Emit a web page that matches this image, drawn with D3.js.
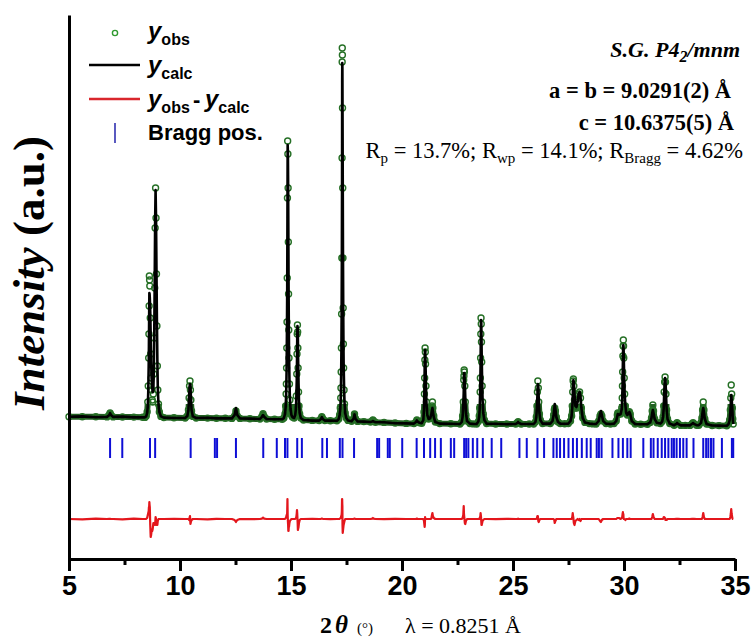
<!DOCTYPE html>
<html>
<head>
<meta charset="utf-8">
<script src="https://cdn.jsdelivr.net/npm/d3@7"></script>
<style>
  body { margin: 0; background: #fff; }
  svg { display: block; }
</style>
</head>
<body>
<div id="chart"></div>
<script>
// powder pattern: [2theta, yObs, yCalc] (a.u.)
const pattern = [
  [5.00,1060,1060],[5.60,1065,1080],[6.21,1060,1040],[6.71,1055,1055],
  [6.81,1150,1140],[6.85,1250,1240],[6.89,1150,1150],[6.99,1055,1055],
  [7.41,1050,1070],[7.92,1045,1030],[8.32,1035,1035],
  [8.42,1030,1030],[8.48,1100,1090],[8.52,1300,1250],[8.55,1800,1600],[8.57,2600,2300],
  [8.59,4000,3600],[8.60,5200,4600],[8.61,6600,6000],[8.62,8100,7250],[8.63,7900,7200],
  [8.64,7600,7000],[8.66,6000,6300],[8.68,4200,5100],[8.70,3000,3800],[8.72,2400,3000],
  [8.75,1900,2500],[8.77,1800,2300],[8.80,2200,2400],[8.82,3200,3400],[8.84,5000,5200],
  [8.86,7500,7700],[8.88,10500,10800],[8.90,12500,12400],[8.92,11000,11000],[8.94,8200,8400],
  [8.96,5600,5900],[8.98,3600,3900],[9.00,2400,2500],[9.03,1700,1700],[9.07,1300,1300],
  [9.14,1080,1080],[9.27,1020,1020],[9.73,1010,1000],
  [10.23,1000,1000],[10.33,1100,1100],[10.38,1400,1400],[10.41,2000,2050],[10.43,2600,2550],
  [10.45,2850,2700],[10.47,2400,2650],[10.49,1900,2050],[10.52,1350,1400],[10.58,1080,1080],
  [10.73,1000,1000],[11.24,995,1010],[11.64,990,980],[12.04,985,985],
  [12.34,980,980],[12.46,1100,1150],[12.52,1350,1500],[12.58,1100,1150],[12.70,980,980],
  [13.15,960,970],[13.60,950,950],[13.69,1080,1060],[13.74,1220,1150],[13.79,1080,1060],
  [13.90,950,950],[14.26,940,940],
  [14.61,940,940],[14.68,1000,1000],[14.73,1200,1200],[14.76,1600,1550],[14.78,2200,2100],
  [14.79,2700,2600],[14.80,3500,3300],[14.81,4500,4400],[14.82,5800,5700],[14.83,8000,7600],
  [14.84,12000,11000],[14.85,14850,14650],[14.86,14200,14300],[14.87,12500,12800],
  [14.88,9800,10400],[14.89,7200,7800],[14.90,5400,5800],[14.91,4000,4400],[14.93,2700,2900],
  [14.95,1900,2000],[14.98,1400,1450],[15.02,1150,1150],[15.06,1050,1050],
  [15.14,1000,1000],[15.19,1150,1150],[15.22,1500,1450],[15.24,2100,2000],[15.26,3200,2900],
  [15.27,4200,3750],[15.28,5200,4900],[15.29,5650,5600],[15.30,5300,5500],[15.31,4500,5050],
  [15.32,3500,4000],[15.34,2300,2700],[15.36,1600,1800],[15.39,1200,1250],[15.44,1000,1000],
  [15.56,900,900],[15.96,880,870],
  [16.27,870,870],[16.35,960,950],[16.39,1060,1040],[16.43,960,950],[16.52,870,870],
  [16.77,865,875],
  [17.07,860,860],[17.15,950,950],[17.19,1150,1150],[17.22,1500,1450],[17.24,2000,1950],
  [17.25,2500,2450],[17.26,3300,3200],[17.27,4500,4300],[17.28,6200,6000],[17.29,9000,8600],
  [17.30,14000,13000],[17.305,18800,17800],[17.31,19500,18750],[17.315,19150,18500],
  [17.32,16500,16800],[17.33,12500,13200],[17.34,9000,9600],[17.35,6500,7000],[17.36,4700,5100],
  [17.37,3500,3800],[17.39,2400,2600],[17.41,1700,1800],[17.44,1250,1250],[17.49,1000,1000],
  [17.57,880,880],
  [17.73,840,840],[17.82,980,970],[17.86,1200,1180],[17.90,980,980],[18.00,830,830],
  [18.28,820,820],
  [18.58,800,800],[18.66,840,820],[18.69,900,850],[18.72,840,820],[18.80,790,790],
  [19.19,780,790],[19.69,750,740],[20.19,730,730],
  [20.54,720,720],[20.63,800,800],[20.67,900,880],[20.71,820,820],[20.79,760,760],
  [20.89,740,740],[20.96,900,900],[20.99,1300,1400],[21.01,2200,2500],[21.02,3000,3400],
  [21.03,3900,4200],[21.04,4500,4400],[21.05,4300,4300],[21.06,3700,3700],[21.08,2600,2600],
  [21.10,1800,1800],[21.14,1150,1150],[21.20,950,950],[21.27,980,980],[21.32,1200,1180],
  [21.35,1600,1400],[21.37,1800,1500],[21.39,1500,1350],[21.43,1100,1050],[21.50,800,800],
  [21.70,720,720],[22.20,710,710],
  [22.61,700,700],[22.69,800,800],[22.73,1100,1050],[22.76,1800,1600],[22.78,2900,2250],
  [22.79,3100,2800],[22.80,3400,3250],[22.81,3300,3250],[22.83,2600,2800],[22.85,1800,2050],
  [22.88,1150,1250],[22.93,850,850],[23.06,720,720],[23.21,705,705],
  [23.36,700,700],[23.44,820,820],[23.48,1100,1100],[23.50,1500,1450],[23.52,2300,2200],
  [23.53,3000,2850],[23.54,4000,3700],[23.55,5200,5000],[23.56,6000,5900],[23.57,5700,5800],
  [23.58,4800,5100],[23.59,3800,4100],[23.61,2600,2800],[23.63,1800,1900],[23.66,1200,1250],
  [23.71,900,900],[23.81,720,720],
  [24.22,700,710],[24.72,700,690],[25.12,700,700],[25.20,760,760],[25.23,820,800],
  [25.26,760,760],[25.37,700,700],[25.73,700,700],
  [25.93,700,700],[26.01,800,800],[26.05,1050,1050],[26.08,1600,1550],[26.10,2300,2150],
  [26.12,2850,2700],[26.14,2500,2600],[26.16,1800,1950],[26.19,1200,1250],[26.23,900,900],
  [26.33,720,720],
  [26.68,720,720],[26.78,850,850],[26.83,1150,1150],[26.86,1400,1450],[26.88,1500,1700],
  [26.91,1350,1450],[26.95,1050,1050],[27.03,800,800],[27.13,720,720],[27.33,715,715],
  [27.49,720,720],[27.59,850,850],[27.64,1100,1100],[27.67,1600,1500],[27.69,2300,2000],
  [27.71,2850,2750],[27.72,2950,2900],[27.74,2600,2800],[27.77,1900,2200],[27.81,1500,1600],
  [27.86,1500,1550],[27.91,1800,1800],[27.96,2200,2250],[28.00,2300,2300],[28.04,2000,2100],
  [28.08,1500,1500],[28.14,1000,1000],[28.24,780,780],[28.44,720,720],[28.59,705,705],
  [28.74,700,700],[28.86,850,850],[28.92,1100,1200],[28.96,1200,1350],[29.00,1100,1150],
  [29.06,850,850],[29.19,720,720],[29.39,700,700],
  [29.55,720,720],[29.65,850,850],[29.70,1150,1100],[29.72,1250,1200],[29.77,1200,1150],
  [29.85,1200,1200],[29.90,1500,1450],[29.92,2000,1900],[29.93,2600,2400],[29.94,3300,3050],
  [29.95,4100,3750],[29.96,4600,4400],[29.97,4900,4650],[29.98,4600,4550],[29.99,4000,4000],
  [30.01,3000,3000],[30.03,2200,2200],[30.06,1600,1650],[30.10,1250,1250],[30.15,1150,1150],
  [30.20,1250,1250],[30.24,1320,1300],[30.28,1200,1200],[30.35,850,850],[30.50,700,700],
  [30.75,690,690],
  [31.06,690,690],[31.18,780,780],[31.24,1000,1000],[31.27,1350,1250],[31.30,1650,1400],
  [31.33,1350,1250],[31.38,950,950],[31.48,760,760],
  [31.64,720,720],[31.72,820,820],[31.76,1050,1050],[31.79,1600,1500],[31.81,2300,2200],
  [31.83,2800,2750],[31.85,3050,3000],[31.87,2800,2850],[31.89,2200,2250],[31.92,1400,1450],
  [31.96,950,950],[32.06,720,720],
  [32.26,640,640],[32.36,720,710],[32.39,760,750],[32.43,720,710],[32.56,630,630],
  [32.76,630,630],
  [32.97,630,630],[33.07,720,710],[33.11,760,750],[33.15,720,710],[33.27,640,640],
  [33.37,640,640],[33.47,760,760],[33.51,1000,1000],[33.54,1400,1300],[33.57,1800,1500],
  [33.60,1400,1300],[33.64,950,950],[33.72,700,700],[33.97,625,625],[34.28,620,620],
  [34.63,610,610],[34.71,700,700],[34.76,900,900],[34.79,1400,1300],[34.81,2000,1750],
  [34.83,2650,2150],[34.85,2200,1950],[34.88,1500,1450],[34.90,950,950],[34.92,700,700]
];

// Bragg reflection positions (2theta)
const braggPos = [
  6.85, 7.40, 8.65, 8.88, 10.48, 11.57, 11.67, 12.52, 13.75, 14.36, 14.73, 14.84,
  15.28, 15.49, 16.41, 16.62, 17.20, 17.32, 17.84, 18.88, 18.97, 19.36, 19.45, 20.01,
  20.66, 20.99, 21.27, 21.49, 21.75, 22.20, 22.35, 22.80, 22.89, 22.99, 23.19, 23.39,
  23.64, 24.04, 24.47, 25.29, 25.62, 26.10, 26.40, 26.82, 26.97, 27.12, 27.30, 27.50,
  27.70, 27.88, 28.10, 28.32, 28.50, 28.77, 28.87, 28.99, 29.48, 29.75, 29.95, 30.15,
  30.30, 30.87, 31.21, 31.33, 31.52, 31.70, 31.85, 32.00, 32.15, 32.25, 32.37, 32.52,
  32.67, 32.82, 33.13, 33.57, 33.70, 33.80, 33.92, 34.03, 34.41, 34.86, 34.92
];

const xTicks = [5, 10, 15, 20, 25, 30, 35];
const xMinorTicks = [7.5, 12.5, 17.5, 22.5, 27.5, 32.5];
const diffOffset = -4050;   // where obs - calc is drawn
const braggRange = [0, -1000];

const svg = d3.select('#chart').append('svg')
  .attr('width', 752)
  .attr('height', 641);

const x = d3.scaleLinear().domain([5, 35]).range([69, 735]);
const y = d3.scaleLinear().domain([-6050, 21150]).range([559, 15]);

const obsLine = d3.line().x(d => x(d[0])).y(d => y(d[1]));
const calcLine = d3.line().x(d => x(d[0])).y(d => y(d[2]));
const diffLine = d3.line().x(d => x(d[0])).y(d => y(diffOffset + d[1] - d[2]));

// dense observed points near the baseline look like a thick green band
svg.append('clipPath').attr('id', 'baseClip')
  .append('rect')
  .attr('x', 60).attr('y', y(1700))
  .attr('width', 700).attr('height', 60);

svg.append('path')
  .datum(pattern)
  .attr('clip-path', 'url(#baseClip)')
  .attr('fill', 'none')
  .attr('stroke', '#235f23')
  .attr('stroke-width', 6)
  .attr('stroke-linejoin', 'round')
  .attr('d', obsLine);

// observed points
svg.append('g')
  .selectAll('circle')
  .data(pattern)
  .join('circle')
  .attr('cx', d => x(d[0]))
  .attr('cy', d => y(d[1]))
  .attr('r', 3)
  .attr('fill', 'none')
  .attr('stroke', '#267026')
  .attr('stroke-width', 1.4);

// calculated
svg.append('path')
  .datum(pattern)
  .attr('fill', 'none')
  .attr('stroke', '#000')
  .attr('stroke-width', 2.6)
  .attr('stroke-linejoin', 'round')
  .attr('d', calcLine);

// difference
svg.append('path')
  .datum(pattern)
  .attr('fill', 'none')
  .attr('stroke', '#e3161c')
  .attr('stroke-width', 2.2)
  .attr('stroke-linejoin', 'round')
  .attr('d', diffLine);

// Bragg positions
svg.append('g')
  .selectAll('line')
  .data(braggPos)
  .join('line')
  .attr('x1', d => x(d)).attr('x2', d => x(d))
  .attr('y1', y(braggRange[0])).attr('y2', y(braggRange[1]))
  .attr('stroke', '#0e0ed6')
  .attr('stroke-width', 2);

// axes
const gx = svg.append('g')
  .attr('transform', 'translate(0,559)')
  .call(d3.axisBottom(x).tickValues(xTicks).tickSize(12).tickSizeOuter(0).tickPadding(5));
gx.attr('font-family', '"Liberation Sans", Arial, sans-serif')
  .attr('font-size', 27)
  .attr('font-weight', 'bold');
gx.select('.domain').attr('stroke-width', 3);
gx.selectAll('.tick line').attr('stroke-width', 3);
gx.selectAll('.tick text').attr('fill', '#000');

const gxm = svg.append('g')
  .attr('transform', 'translate(0,559)')
  .call(d3.axisBottom(x).tickValues(xMinorTicks).tickSize(6).tickSizeOuter(0).tickFormat(''));
gxm.select('.domain').remove();
gxm.selectAll('.tick line').attr('stroke-width', 3);

const gy = svg.append('g')
  .attr('transform', 'translate(69,0)')
  .call(d3.axisLeft(y).tickValues([]).tickSizeOuter(0));
gy.select('.domain').attr('stroke-width', 3);

// axis titles
const serif = '"Liberation Serif", "Times New Roman", serif';
const sans = '"Liberation Sans", Arial, sans-serif';

svg.append('text')
  .attr('transform', 'translate(44,273) rotate(-90)')
  .attr('text-anchor', 'middle')
  .attr('font-family', serif)
  .attr('font-weight', 'bold')
  .attr('font-size', 45)
  .call(t => {
    t.append('tspan').attr('font-style', 'italic').text('Intensity');
    t.append('tspan').text(' (a.u.)');
  });

const xt = svg.append('text')
  .attr('y', 633)
  .attr('font-family', serif);
xt.append('tspan').attr('x', 320).attr('font-weight', 'bold').attr('font-size', 24).text('2');
xt.append('tspan').attr('x', 335).attr('font-weight', 'bold').attr('font-style', 'italic').attr('font-size', 25).text('θ');
xt.append('tspan').attr('x', 357).attr('font-size', 15).text('(°)');
xt.append('tspan').attr('x', 405).attr('font-size', 22).text('λ = 0.8251 Å');

// legend
const legend = svg.append('g').attr('font-family', sans).attr('font-weight', 'bold');

legend.append('circle')
  .attr('cx', 115).attr('cy', 33).attr('r', 2.6)
  .attr('fill', 'none').attr('stroke', '#2f9a2f').attr('stroke-width', 1.4);
legend.append('line')
  .attr('x1', 89).attr('x2', 140).attr('y1', 65).attr('y2', 65)
  .attr('stroke', '#000').attr('stroke-width', 2.6);
legend.append('line')
  .attr('x1', 89).attr('x2', 140).attr('y1', 99).attr('y2', 99)
  .attr('stroke', '#d9262c').attr('stroke-width', 2.6);
legend.append('line')
  .attr('x1', 115).attr('x2', 115).attr('y1', 123).attr('y2', 143)
  .attr('stroke', '#3030b0').attr('stroke-width', 1.6);

function yLabel(g, x0, y0, sub) {
  const t = g.append('text').attr('x', x0).attr('y', y0);
  t.append('tspan').attr('font-style', 'italic').attr('font-size', 24).text('y');
  t.append('tspan').attr('font-size', 16).attr('dy', 6).text(sub);
  return t;
}
yLabel(legend, 148, 39, 'obs');
yLabel(legend, 148, 73, 'calc');
yLabel(legend, 148, 107, 'obs');
legend.append('text').attr('x', 193).attr('y', 107).attr('font-size', 22).text('-');
yLabel(legend, 205, 107, 'calc');
legend.append('text').attr('x', 148).attr('y', 140).attr('font-size', 22).text('Bragg pos.');

// refinement details
const info = svg.append('g').attr('font-family', serif).attr('text-anchor', 'end');

const sg = info.append('text').attr('x', 740).attr('y', 57)
  .attr('font-weight', 'bold').attr('font-style', 'italic').attr('font-size', 22);
sg.append('tspan').text('S.G. P4');
sg.append('tspan').attr('font-size', 16).attr('dy', 5).text('2');
sg.append('tspan').attr('dy', -5).text('/mnm');

info.append('text').attr('x', 731).attr('y', 98)
  .attr('font-weight', 'bold').attr('font-size', 22.5).text('a = b = 9.0291(2) Å');
info.append('text').attr('x', 734).attr('y', 130)
  .attr('font-weight', 'bold').attr('font-size', 22.5).text('c = 10.6375(5) Å');

const rt = info.append('text').attr('x', 743).attr('y', 158).attr('font-size', 22.5);
rt.append('tspan').text('R');
rt.append('tspan').attr('font-size', 15).attr('dy', 5).text('p');
rt.append('tspan').attr('dy', -5).text(' = 13.7%; R');
rt.append('tspan').attr('font-size', 15).attr('dy', 5).text('wp');
rt.append('tspan').attr('dy', -5).text(' = 14.1%; R');
rt.append('tspan').attr('font-size', 15).attr('dy', 5).text('Bragg');
rt.append('tspan').attr('dy', -5).text(' = 4.62%');
</script>
</body>
</html>
